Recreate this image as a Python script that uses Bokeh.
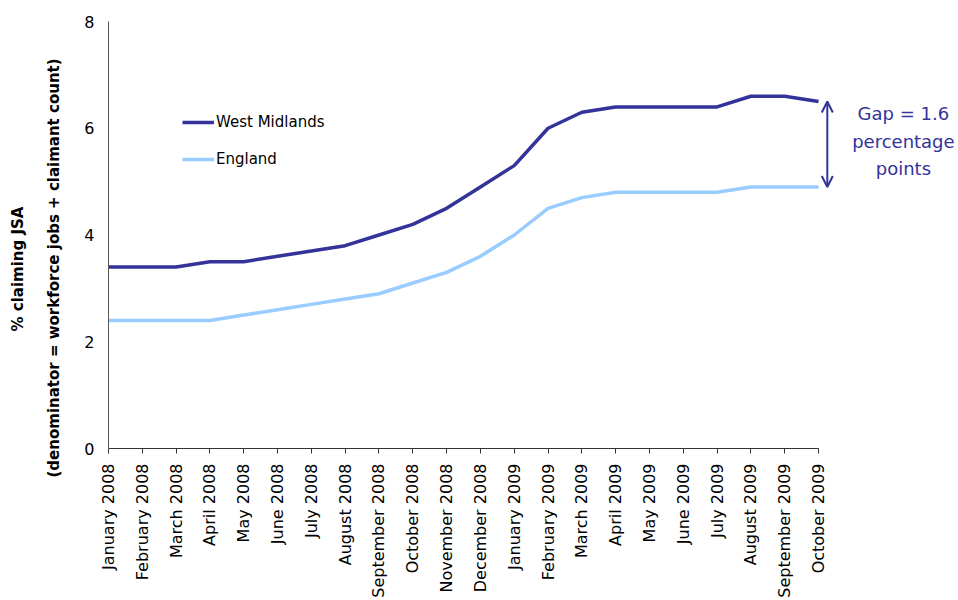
from bokeh.plotting import figure
from bokeh.models import (Range1d, FixedTicker, Legend, LegendItem, Arrow, OpenHead, Label, Title)
from bokeh.embed import file_html
from bokeh.resources import INLINE
import math

# Monthly claimant rate, January 2008 - October 2009
months = ["January 2008", "February 2008", "March 2008", "April 2008", "May 2008",
          "June 2008", "July 2008", "August 2008", "September 2008", "October 2008",
          "November 2008", "December 2008", "January 2009", "February 2009",
          "March 2009", "April 2009", "May 2009", "June 2009", "July 2009",
          "August 2009", "September 2009", "October 2009"]
west_midlands = [3.4, 3.4, 3.4, 3.5, 3.5, 3.6, 3.7, 3.8, 4.0, 4.2, 4.5, 4.9,
                 5.3, 6.0, 6.3, 6.4, 6.4, 6.4, 6.4, 6.6, 6.6, 6.5]
england = [2.4, 2.4, 2.4, 2.4, 2.5, 2.6, 2.7, 2.8, 2.9, 3.1, 3.3, 3.6,
           4.0, 4.5, 4.7, 4.8, 4.8, 4.8, 4.8, 4.9, 4.9, 4.9]
y_ticks = [0, 2, 4, 6, 8]
y_title = ["% claiming JSA", "(denominator = workforce jobs + claimant count)"]

FONT = "DejaVu Sans"
WM_COLOR = "#333399"
ENG_COLOR = "#99CCFF"

x = list(range(len(months)))
last = len(months) - 1

# the frame runs past the last month so the gap annotation has room;
# the x axis itself is bounded to the months
p = figure(width=958, height=600, output_backend="svg", toolbar_location=None,
           x_range=Range1d(0, 25.14), y_range=Range1d(0, 8),
           min_border_left=108, min_border_right=0, min_border_top=21,
           min_border_bottom=151)
p.outline_line_color = None
p.grid.grid_line_color = None
p.background_fill_color = "white"
p.border_fill_color = "white"

wm = p.line(x, west_midlands, line_color=WM_COLOR, line_width=3.5)
en = p.line(x, england, line_color=ENG_COLOR, line_width=3.5)

# x axis: one tick per month, labels rotated
xa = p.xaxis[0]
xa.bounds = (0, last)
xa.ticker = FixedTicker(ticks=x)
xa.major_label_overrides = {i: m for i, m in enumerate(months)}
xa.major_label_orientation = math.pi / 2
xa.major_label_text_font = FONT
xa.major_label_text_font_size = "16px"
xa.major_label_text_color = "black"
xa.major_label_standoff = 10
xa.major_tick_in = 0
xa.major_tick_out = 5
xa.minor_tick_line_color = None
xa.axis_line_color = "#333333"
xa.major_tick_line_color = "#333333"

# y axis
ya = p.yaxis[0]
ya.ticker = FixedTicker(ticks=y_ticks)
ya.major_label_text_font = FONT
ya.major_label_text_font_size = "16px"
ya.major_label_text_color = "black"
ya.major_tick_in = 0
ya.major_tick_out = 0
ya.minor_tick_line_color = None
ya.major_label_standoff = 14
ya.axis_line_color = "#555555"

# two-line y axis title, both lines centred on a point a little below
# the middle of the axis (the panel added first sits nearest the frame)
for line, standoff, offset in zip(reversed(y_title), (38, -6), (-29, 117)):
    p.add_layout(Title(text=line, align="left", offset=offset, standoff=standoff,
                       text_font=FONT, text_font_size="15px",
                       text_font_style="bold", text_color="black"), "left")

legend = Legend(items=[LegendItem(label="West Midlands", renderers=[wm]),
                       LegendItem(label="England", renderers=[en])],
                location=(74, 279), orientation="vertical",
                border_line_color=None, background_fill_alpha=0,
                padding=0, margin=0, spacing=17,
                glyph_width=32, glyph_height=20, label_height=20,
                label_standoff=2, label_text_font=FONT,
                label_text_font_size="15px", label_text_color="black")
p.add_layout(legend, "center")

# gap between the two series in the latest month
gap = west_midlands[-1] - england[-1]
ax = last + 0.26
p.add_layout(Arrow(x_start=ax, y_start=england[-1], x_end=ax, y_end=west_midlands[-1],
                   start=OpenHead(size=11, line_color=WM_COLOR, line_width=2),
                   end=OpenHead(size=11, line_color=WM_COLOR, line_width=2),
                   line_color=WM_COLOR, line_width=2))
p.add_layout(Label(x=last + 2.51, y=(west_midlands[-1] + england[-1]) / 2,
                   y_offset=3,
                   text=f"Gap = {gap:.1f}\npercentage\npoints",
                   text_align="center", text_baseline="middle",
                   text_font=FONT, text_font_size="18px", text_color=WM_COLOR,
                   text_line_height=1.3))

open("out.html", "w").write(file_html(p, INLINE))
